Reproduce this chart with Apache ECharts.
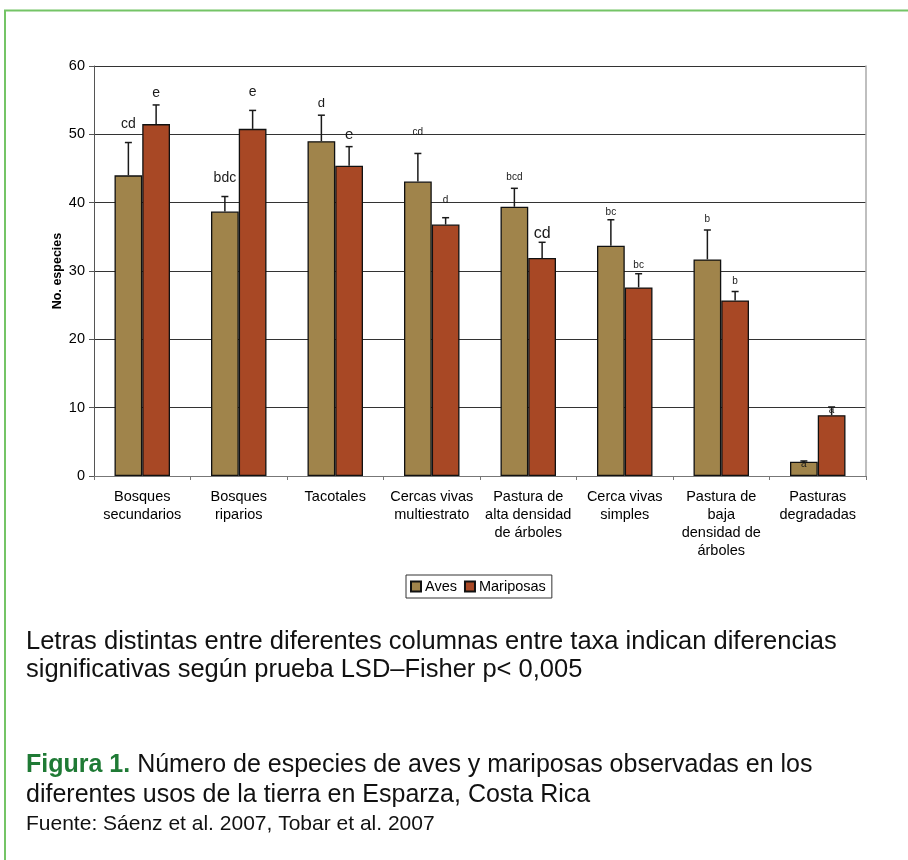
<!DOCTYPE html>
<html>
<head>
<meta charset="utf-8">
<script src="https://cdn.jsdelivr.net/npm/echarts@6/dist/echarts.min.js"></script>
<style>
  html, body { margin: 0; padding: 0; background: #fff; }
  #chart { width: 908px; height: 860px; }
</style>
</head>
<body>
<div id="chart"></div>
<script>
// Land-use categories (x axis)
const categories = [
  'Bosques\nsecundarios',
  'Bosques\nriparios',
  'Tacotales',
  'Cercas vivas\nmultiestrato',
  'Pastura de\nalta densidad\nde árboles',
  'Cerca vivas\nsimples',
  'Pastura de\nbaja\ndensidad de\nárboles',
  'Pasturas\ndegradadas'
];

// Mean number of species per land use
const avesMean      = [44.0, 38.7, 49.0, 43.1, 39.4, 33.7, 31.7, 2.1];
const mariposasMean = [51.5, 50.8, 45.4, 36.8, 31.9, 27.6, 25.7, 8.9];

// Upper error (standard error) for each mean
const avesError      = [4.8, 2.2, 3.8, 4.1, 2.7, 3.8, 4.3, 0.1];
const mariposasError = [2.8, 2.7, 2.8, 1.0, 2.3, 2.0, 1.3, 1.2];

// LSD-Fisher grouping letters
const avesLetters      = ['cd', 'bdc', 'd', 'cd', 'bcd', 'bc', 'b', 'a'];
const mariposasLetters = ['e', 'e', 'e', 'd', 'cd', 'bc', 'b', 'a'];

// Value axis ticks
const yTicks = [0, 10, 20, 30, 40, 50, 60];

const seriesNames = ['Aves', 'Mariposas'];
const colors = ['#A0844B', '#A84825'];

// Letter typography: font size and lift (px above the error cap)
const letterLook = [
  { size: [14, 14, 13, 10, 10, 10, 10, 10], lift: [18, 18, 12, 21, 11, 8, 11, -3] },
  { size: [14, 14, 15, 10, 16, 10, 10, 10], lift: [12, 18, 12, 17, 9, 8, 10, -3] }
];

const CAT_GAP = 0.425;
const FONT = '"Liberation Sans", Arial, sans-serif';

function errorSeries(s, means, errors, letters) {
  const look = letterLook[s];
  return {
    type: 'custom',
    name: seriesNames[s] + ' error',
    z: 5,
    silent: true,
    data: means.map((m, i) => [i, m, errors[i]]),
    renderItem(params, api) {
      const i = api.value(0);
      const mean = api.value(1);
      const err = api.value(2);
      const base = api.coord([i, mean]);
      const top = api.coord([i, mean + err]);
      const band = api.size([1, 0])[0];
      const bw = band * (1 - CAT_GAP) / 2;
      const x = base[0] + (s === 0 ? -bw / 2 : bw / 2);
      const half = 3.5;
      const stroke = { stroke: '#1a1a1a', lineWidth: 1.5 };
      return {
        type: 'group',
        children: [
          { type: 'line', shape: { x1: x, y1: base[1], x2: x, y2: top[1] }, style: stroke },
          { type: 'line', shape: { x1: x - half, y1: top[1], x2: x + half, y2: top[1] }, style: stroke },
          {
            type: 'text',
            style: {
              text: letters[i],
              x: x,
              y: top[1] - look.lift[i],
              align: 'center',
              verticalAlign: 'middle',
              fill: '#1a1a1a',
              font: look.size[i] + 'px ' + FONT
            }
          }
        ]
      };
    }
  };
}

const chart = echarts.init(document.getElementById('chart'), null, { renderer: 'canvas' });

chart.setOption({
  animation: false,
  backgroundColor: '#fff',
  textStyle: { fontFamily: FONT },
  grid: { left: 94, right: 42, top: 66, bottom: 384 },
  legend: {
    data: seriesNames,
    left: 406,
    top: 575,
    orient: 'horizontal',
    icon: 'rect',
    itemWidth: 10,
    itemHeight: 10,
    itemGap: 7,
    padding: [4, 6, 4, 4],
    borderColor: '#333',
    borderWidth: 1,
    textStyle: { fontSize: 14.5, color: '#000', fontFamily: FONT, padding: [0, 0, 0, -1] }
  },
  xAxis: {
    type: 'category',
    data: categories,
    axisLine: { lineStyle: { color: '#777', width: 1 } },
    axisTick: { show: true, length: 4, lineStyle: { color: '#777' } },
    axisLabel: {
      interval: 0,
      fontSize: 14.5,
      lineHeight: 18,
      color: '#000',
      margin: 12,
      fontFamily: FONT
    },
    splitLine: { show: false }
  },
  yAxis: [
    {
      type: 'value',
      min: yTicks[0],
      max: yTicks[yTicks.length - 1],
      interval: yTicks[1] - yTicks[0],
      name: 'No. especies',
      nameLocation: 'middle',
      nameGap: 30,
      nameMoveOverlap: false,
      nameTextStyle: { fontSize: 12.5, fontWeight: 'bold', color: '#000', fontFamily: FONT },
      axisLine: { show: true, lineStyle: { color: '#555', width: 1 } },
      axisTick: { show: true, length: 5, lineStyle: { color: '#555' } },
      axisLabel: { fontSize: 14.5, color: '#000', margin: 9, fontFamily: FONT },
      splitLine: { show: true, lineStyle: { color: '#333', width: 1 } }
    },
    {
      type: 'value',
      position: 'right',
      min: yTicks[0],
      max: yTicks[yTicks.length - 1],
      interval: yTicks[1] - yTicks[0],
      axisLine: { show: true, lineStyle: { color: '#aaa', width: 1.5 } },
      axisTick: { show: false },
      axisLabel: { show: false },
      splitLine: { show: false }
    }
  ],
  series: [
    {
      name: seriesNames[0],
      type: 'bar',
      data: avesMean,
      barGap: '0%',
      barCategoryGap: (CAT_GAP * 100) + '%',
      itemStyle: { color: colors[0], borderColor: '#111', borderWidth: 1.3 }
    },
    {
      name: seriesNames[1],
      type: 'bar',
      data: mariposasMean,
      barGap: '0%',
      barCategoryGap: (CAT_GAP * 100) + '%',
      itemStyle: { color: colors[1], borderColor: '#111', borderWidth: 1.3 }
    },
    errorSeries(0, avesMean, avesError, avesLetters),
    errorSeries(1, mariposasMean, mariposasError, mariposasLetters)
  ],
  graphic: [
    // frame
    { type: 'line', silent: true, shape: { x1: 4, y1: 10.5, x2: 908, y2: 10.5 }, style: { stroke: '#74C466', lineWidth: 2 } },
    { type: 'line', silent: true, shape: { x1: 5, y1: 10, x2: 5, y2: 860 }, style: { stroke: '#74C466', lineWidth: 2 } },
    // note under the chart
    {
      type: 'text', left: 26, top: 628,
      style: {
        text: 'Letras distintas entre diferentes columnas entre taxa indican diferencias\nsignificativas según prueba LSD–Fisher p< 0,005',
        font: '25.5px ' + FONT, lineHeight: 28, fill: '#111'
      }
    },
    // caption
    {
      type: 'text', left: 26, top: 753,
      style: {
        rich: {
          f: { font: 'bold 25px ' + FONT, fill: '#1F7A35', lineHeight: 30 },
          t: { font: '25px ' + FONT, fill: '#111', lineHeight: 30 }
        },
        text: '{f|Figura 1.}{t| Número de especies de aves y mariposas observadas en los}\n{t|diferentes usos de la tierra en Esparza, Costa Rica}'
      }
    },
    {
      type: 'text', left: 26, top: 814,
      style: {
        text: 'Fuente: Sáenz et al. 2007, Tobar et al. 2007',
        font: '21px ' + FONT, fill: '#111'
      }
    }
  ]
});
</script>
</body>
</html>
